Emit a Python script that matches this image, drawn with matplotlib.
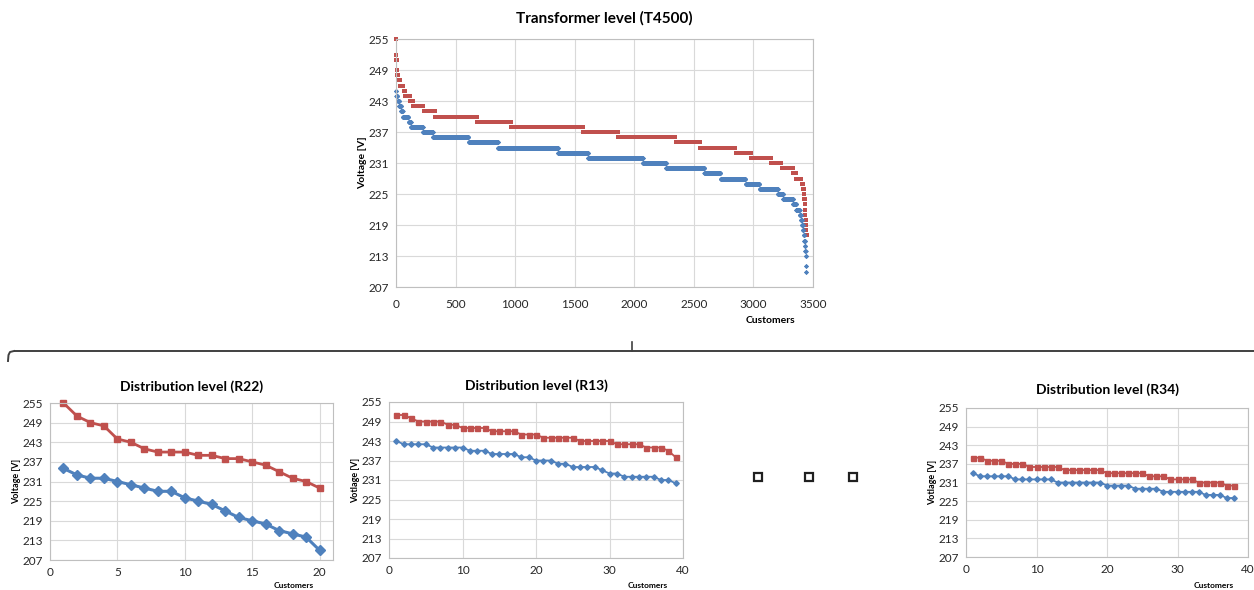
import numpy as np
import matplotlib
matplotlib.use("Agg")
import matplotlib.pyplot as plt
from matplotlib.patches import Rectangle

plt.rcParams['font.family'] = ['Lato', 'DejaVu Sans']

RED = '#C0504D'
BLUE = '#4F81BD'
GRID = '#D9D9D9'

# ---------------- data ----------------
# Transformer level (T4500): sorted voltages stored as run-lengths (level, number of customers)
t_red_levels = [255, 252, 251, 249, 248, 247, 246, 245, 244, 243, 242, 241, 240, 239, 238, 237,
                236, 235, 234, 233, 232, 231, 230, 229, 228, 227, 226, 225, 224, 223, 222, 221,
                220, 219, 218, 217]
t_red_counts = [2, 1, 2, 3, 7, 20, 27, 14, 42, 22, 90, 98, 350, 285, 605, 292,
                485, 204, 300, 131, 168, 87, 96, 28, 44, 12, 7, 4, 3, 3, 3, 2,
                2, 2, 2, 3]
t_blue_levels = [245, 244, 243, 242, 241, 240, 239, 238, 237, 236, 235, 234, 233, 232, 231, 230,
                 229, 228, 227, 226, 225, 224, 223, 222, 221, 220, 219, 218, 217, 216, 215, 214,
                 213, 211, 210]
t_blue_counts = [3, 9, 14, 16, 13, 49, 19, 101, 84, 300, 246, 505, 252, 459, 196, 322,
                 135, 210, 117, 154, 45, 82, 28, 28, 11, 8, 8, 6, 6, 5, 4, 3,
                 3, 2, 2]

# Distribution level (R22)
r22_red = [255, 251, 249, 248, 244, 243, 241, 240, 240, 240, 239, 239, 238, 238, 237, 236, 234, 232, 231, 229]
r22_blue = [235, 233, 232, 232, 231, 230, 229, 228, 228, 226, 225, 224, 222, 220, 219, 218, 216, 215, 214, 210]

# Distribution level (R13)
r13_red = [251, 251, 250, 249, 249, 249, 249, 248, 248, 247, 247, 247, 247, 246, 246, 246, 246, 245, 245, 245,
           244, 244, 244, 244, 244, 243, 243, 243, 243, 243, 242, 242, 242, 242, 241, 241, 241, 240, 238]
r13_blue = [243, 242, 242, 242, 242, 241, 241, 241, 241, 241, 240, 240, 240, 239, 239, 239, 239, 238, 238, 237,
            237, 237, 236, 236, 235, 235, 235, 235, 234, 233, 233, 232, 232, 232, 232, 232, 231, 231, 230]

# Distribution level (R34)
r34_red = [239, 239, 238, 238, 238, 237, 237, 237, 236, 236, 236, 236, 236, 235, 235, 235, 235, 235, 235,
           234, 234, 234, 234, 234, 234, 233, 233, 233, 232, 232, 232, 232, 231, 231, 231, 231, 230, 230]
r34_blue = [234, 233, 233, 233, 233, 233, 232, 232, 232, 232, 232, 232, 231, 231, 231, 231, 231, 231, 231,
            230, 230, 230, 230, 229, 229, 229, 229, 228, 228, 228, 228, 228, 228, 227, 227, 227, 226, 226]

y_ticks = [207, 213, 219, 225, 231, 237, 243, 249, 255]

# ---------------- figure ----------------
W, H = 1254, 590
fig = plt.figure(figsize=(W / 100, H / 100), dpi=100)


def px_axes(l, t, r, b):
    return fig.add_axes([l / W, 1 - b / H, (r - l) / W, (b - t) / H])


def style(ax, xlim, xticks, ylabel, title, title_pad, title_fs=10, ylab_fs=6.5, xpad=5):
    ax.set_xlim(*xlim)
    ax.set_ylim(207, 255)
    ax.set_xticks(xticks)
    ax.set_yticks(y_ticks)
    ax.grid(True, color=GRID, lw=0.8)
    ax.set_axisbelow(True)
    for s in ax.spines.values():
        s.set_color('#BFBFBF')
        s.set_linewidth(0.8)
    ax.tick_params(length=0, labelsize=8.5, colors='#262626', pad=5)
    ax.tick_params(axis='x', pad=xpad)
    ax.set_ylabel(ylabel, fontsize=ylab_fs, fontweight='bold', labelpad=1)
    ax.set_title(title, fontsize=title_fs, fontweight='bold', pad=title_pad)


# Top chart
ax0 = px_axes(396, 39, 813, 287)
yr = np.repeat(t_red_levels, t_red_counts)
yb = np.repeat(t_blue_levels, t_blue_counts)
ax0.plot(np.arange(1, len(yr) + 1), yr, ls='none', marker='s', ms=2.9, mew=0, color=RED,
         clip_on=False, snap=False)
ax0.plot(np.arange(1, len(yb) + 1), yb, ls='none', marker='D', ms=2.5, mew=0, color=BLUE, clip_on=False)
style(ax0, (0, 3500), [0, 500, 1000, 1500, 2000, 2500, 3000, 3500], 'Voltage [V]',
      'Transformer level (T4500)', 12, title_fs=11, ylab_fs=7.5, xpad=9)
ax0.text(0.898, -0.135, 'Customers', transform=ax0.transAxes, ha='center', va='center',
         fontsize=7.5, fontweight='bold')

# R22
ax1 = px_axes(50, 403, 333, 560)
x22 = np.arange(1, len(r22_red) + 1)
ax1.plot(x22, r22_red, color=RED, lw=2, marker='s', ms=4.3, clip_on=False)
ax1.plot(x22, r22_blue, color=BLUE, lw=2.2, marker='D', ms=5.5, clip_on=False)
style(ax1, (0, 21), [0, 5, 10, 15, 20], 'Voltage [V]', 'Distribution level (R22)', 9)

# R13
ax2 = px_axes(389, 402, 683, 558)
x13 = np.arange(1, len(r13_red) + 1)
ax2.plot(x13, r13_red, color=RED, lw=1.3, marker='s', ms=3.6)
ax2.plot(x13, r13_blue, color=BLUE, lw=1.3, marker='D', ms=2.8)
style(ax2, (0, 40), [0, 10, 20, 30, 40], 'Votlage [V]', 'Distribution level (R13)', 9)

# R34
ax3 = px_axes(966, 408, 1248, 557)
x34 = np.arange(1, len(r34_red) + 1)
ax3.plot(x34, r34_red, color=RED, lw=1.3, marker='s', ms=3.6)
ax3.plot(x34, r34_blue, color=BLUE, lw=1.3, marker='D', ms=2.8)
style(ax3, (0, 40), [0, 10, 20, 30, 40], 'Votlage [V]', 'Distribution level (R34)', 10)

# "Customers" labels of the bottom charts, just inside the bottom edge of the figure
for ax, xc in ((ax1, 0.86), (ax2, 0.88), (ax3, 0.88)):
    pos = ax.get_position()
    fig.text(pos.x0 + xc * pos.width, 1.5 / H, 'Customers', ha='center', va='bottom',
             fontsize=6, fontweight='bold')

# Decorations: brace and hollow squares (pixel overlay)
ov = fig.add_axes([0, 0, 1, 1], zorder=-1)
ov.set_xlim(0, W)
ov.set_ylim(H, 0)
ov.axis('off')
ov.plot([14, W], [351, 351], color='#404040', lw=1.4, solid_capstyle='butt')
ov.plot([8, 8.5, 10, 14], [361, 355, 352, 351], color='#404040', lw=1.4)
ov.plot([632, 632], [342, 351], color='#404040', lw=1.2)
for cx in (758, 809, 853):
    ov.add_patch(Rectangle((cx - 4, 473), 8, 8, fill=False, ec='#202020', lw=1.6))

fig.savefig('out.png', dpi=100)
